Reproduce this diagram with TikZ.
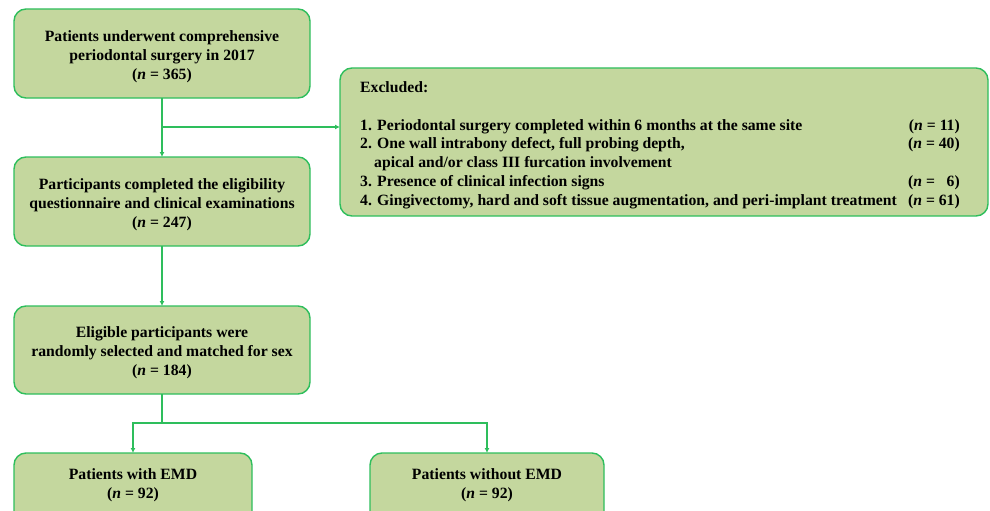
\documentclass[tikz,border=0pt]{standalone}
\usepackage{fontspec}
\setmainfont{Liberation Serif}
\usetikzlibrary{arrows.meta}
\definecolor{boxfill}{RGB}{196,215,158}
\definecolor{boxline}{RGB}{46,190,92}
\tikzset{
  fnt/.style={font=\fontsize{15.7}{19}\selectfont\bfseries},
  flowbox/.style={draw=boxline, line width=1.4pt, fill=boxfill, rounded corners=12pt},
  txt/.style={fnt, align=center, inner sep=0pt},
  ltxt/.style={fnt, anchor=base west, inner sep=0pt},
  rtxt/.style={fnt, anchor=base east, inner sep=0pt},
  conn/.style={draw=boxline, line width=1.4pt},
  arr/.style={conn, -{Latex[length=5pt,width=5pt]}}
}
\begin{document}
\begin{tikzpicture}[x=1pt,y=-1pt]
\useasboundingbox (0,0) rectangle (990,511);
\clip (0,0) rectangle (990,511);
% boxes
\path[flowbox] (14,9) rectangle (310,98);
\node[txt] (b1) at (162,56.5) {Patients underwent comprehensive\\periodontal surgery in 2017\\(\textit{n} = 365)};
\coordinate (b1s) at (162,98);
\path[flowbox] (14,157) rectangle (310,246);
\node[txt] (b2) at (162,204.5) {Participants completed the eligibility\\questionnaire and clinical examinations\\(\textit{n} = 247)};
\coordinate (b2n) at (162,157);
\coordinate (b2s) at (162,246);
\path[flowbox] (14,306) rectangle (310,394);
\node[txt] (b3) at (162,352.5) {Eligible participants were\\randomly selected and matched for sex\\(\textit{n} = 184)};
\coordinate (b3n) at (162,306);
\coordinate (b3s) at (162,394);
\path[flowbox] (14,453) rectangle (252,530);
\node[txt] (b4) at (133,485.5) {Patients with EMD\\(\textit{n} = 92)};
\coordinate (b4n) at (133,453);
\path[flowbox] (370,453) rectangle (604,530);
\node[txt] (b5) at (487,485.5) {Patients without EMD\\(\textit{n} = 92)};
\coordinate (b5n) at (487,453);
% excluded box
\path[flowbox] (340,68) rectangle (988,216);
\coordinate (exw) at (340,127);
\node[ltxt] (e0) at (360,92.5) {Excluded:};
\node[ltxt] (e1) at (360,130.5) {1. Periodontal surgery completed within 6 months at the same site};
\node[ltxt] (e2) at (360,148) {2. One wall intrabony defect, full probing depth,};
\node[ltxt] (e2b) at (374,167) {apical and/or class III furcation involvement};
\node[ltxt] (e3) at (360,186) {3. Presence of clinical infection signs};
\node[ltxt] (e4) at (360,205.5) {4. Gingivectomy, hard and soft tissue augmentation, and peri-implant treatment};
\node[rtxt] (n1) at (960,130.5) {(\textit{n} = 11)};
\node[rtxt] (n2) at (960,148) {(\textit{n} = 40)};
\node[rtxt] (n3) at (960,186) {(\textit{n} = \hphantom{0}6)};
\node[rtxt] (n4) at (960,205.5) {(\textit{n} = 61)};
% connectors
\coordinate (j1) at (162,127);
\draw[arr] (b1s) -- (b2n);
\draw[arr] (j1) -- (exw);
\draw[arr] (b2s) -- (b3n);
\coordinate (j2) at (162,423);
\draw[conn] (b3s) -- (j2);
\draw[arr] (j2) -| (b4n);
\draw[arr] (j2) -| (b5n);
\end{tikzpicture}
\end{document}
